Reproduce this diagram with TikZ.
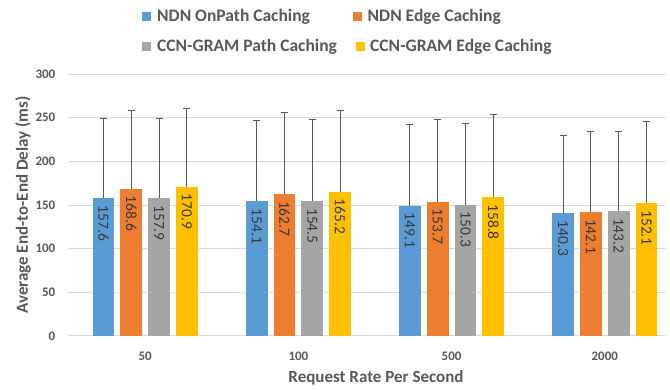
\documentclass[tikz,border=0pt]{standalone}
\usepackage{fontspec}
\setmainfont{Carlito}
\definecolor{col1}{HTML}{5B9BD5}
\definecolor{col2}{HTML}{ED7D31}
\definecolor{col3}{HTML}{A5A5A5}
\definecolor{col4}{HTML}{FFC000}
\definecolor{gridc}{HTML}{D9D9D9}
\definecolor{txtc}{HTML}{595959}
\definecolor{valc}{HTML}{3A3A3A}
\definecolor{errc}{HTML}{595959}
\begin{document}
\begin{tikzpicture}[x=1pt,y=-1pt,
  gridline/.style={draw=gridc,line width=1pt},
  ticklab/.style={text=txtc,font=\fontsize{13}{15}\selectfont\bfseries,inner sep=0pt},
  vallab/.style={text=valc,font=\fontsize{15.5}{17}\selectfont,inner sep=0pt},
  errbar/.style={draw=errc,line width=0.9pt},
  legtxt/.style={text=txtc,font=\fontsize{17.5}{19}\selectfont\bfseries,inner sep=0pt,anchor=west},
  axtitle/.style={text=txtc,font=\fontsize{17}{19}\selectfont\bfseries,inner sep=0pt}]
\useasboundingbox (0,0) rectangle (670,390);
\fill[white] (0,0) rectangle (670,390);
% grid and y ticks
\foreach \v in {0,50,100,150,200,250,300}{
  \pgfmathsetmacro\yy{336-0.8733*\v}
  \draw[gridline] (68,\yy) -- (666,\yy);
  \node[ticklab,anchor=east] (t\v) at (55.5,\yy) {\v};
}
% bars
\foreach \g/\cat/\lst in {1/50/{157.6/249.3,168.6/258,157.9/249.3,170.9/260.3},
                          2/100/{154.1/247,162.7/256,154.5/247.7,165.2/258},
                          3/500/{149.1/242,153.7/247.7,150.3/243.5,158.8/253.4},
                          4/2000/{140.3/230.2,142.1/234,143.2/234,152.1/245.8}}{
  \pgfmathsetmacro\gc{145.2+153.2*(\g-1)}
  \node[ticklab] (c\g) at (\gc,356) {\cat};
  \foreach \val/\err [count=\s] in \lst {
    \pgfmathsetmacro\xc{\gc+(\s-2.5)*27.8}
    \pgfmathsetmacro\yt{336-0.8733*\val}
    \pgfmathsetmacro\ye{336-0.8733*\err}
    \fill[col\s] (\xc-10.85,336) rectangle (\xc+10.85,\yt);
    \draw[errbar] (\xc,\yt) -- (\xc,\ye);
    \draw[errbar] (\xc-3.5,\ye) -- (\xc+3.5,\ye);
    \node[vallab,anchor=west,rotate=-90] (v\g\s) at (\xc,\yt+7) {\val};
  }
}
% legend
\fill[col1] (142,12.5) rectangle (151,21.5);
\node[legtxt] (l1) at (157,17) {NDN OnPath Caching};
\fill[col2] (353,12.5) rectangle (362,21.5);
\node[legtxt] (l2) at (367.5,17) {NDN Edge Caching};
\fill[col3] (142,42.5) rectangle (151,51.5);
\node[legtxt] (l3) at (157,47) {CCN-GRAM Path Caching};
\fill[col4] (356,42.5) rectangle (365,51.5);
\node[legtxt] (l4) at (370,47) {CCN-GRAM Edge Caching};
% axis titles
\node[axtitle,rotate=90] (ytitle) at (23,205) {Average End-to-End Delay (ms)};
\node[axtitle] (xtitle) at (376,378) {Request Rate Per Second};
\end{tikzpicture}
\end{document}
